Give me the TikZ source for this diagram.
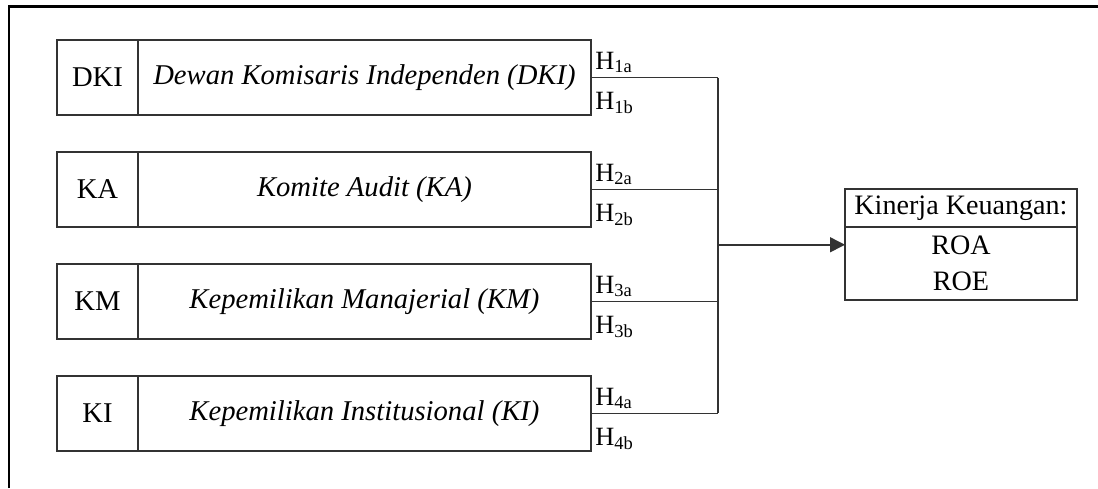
\documentclass[tikz,border=0pt]{standalone}
\usepackage{fontspec}
\setmainfont{Liberation Serif}
\usetikzlibrary{positioning,arrows.meta}
\tikzset{
  kode/.style={draw=black!80, line width=0.03cm, outer sep=0pt, inner sep=0pt,
    minimum width=1.62cm, minimum height=1.5cm, font=\fontsize{16.3}{19}\selectfont},
  uraian/.style={kode, minimum width=9.06cm, font=\fontsize{16.3}{19}\selectfont\itshape},
  hipo/.style={inner xsep=0.08cm, inner ysep=0.08cm, font=\fontsize{15}{17}\selectfont},
  hasil/.style={kode, minimum width=4.64cm, minimum height=0.76cm, align=center,
    font=\fontsize{16}{19}\selectfont},
  garis/.style={draw=black!80, line width=0.03cm}
}
\begin{document}
\begin{tikzpicture}[x=0.02cm,y=-0.02cm]
\useasboundingbox (0,0) rectangle (1098,488);
\draw[line width=0.06cm] (9,488)--(9,6)--(1098,6);
% variabel independen
\node[kode, anchor=north west] (dki) at (57,40) {DKI};
\node[uraian, right=0pt of dki] (dkiu) {Dewan Komisaris Independen (DKI)};
\node[kode, below=0.74cm of dki] (ka) {KA};
\node[uraian, right=0pt of ka] (kau) {Komite Audit (KA)};
\node[kode, below=0.74cm of ka] (km) {KM};
\node[uraian, right=0pt of km] (kmu) {Kepemilikan Manajerial (KM)};
\node[kode, below=0.74cm of km] (ki) {KI};
\node[uraian, right=0pt of ki] (kiu) {Kepemilikan Institusional (KI)};
% variabel dependen
\node[hasil, anchor=north west] (kinerja) at (845,189) {Kinerja Keuangan:};
\node[hasil, minimum height=1.46cm, below=0pt of kinerja, font=\fontsize{16}{20.5}\selectfont] (rasio) {ROA\\ROE};
% garis
\coordinate (bus) at (718,244.75);
\foreach \v/\n in {dkiu/1,kau/2,kmu/3,kiu/4}{
  \draw[garis] (\v.east) -- (\v.east -| bus);
  \node[hipo, anchor=south west] at (\v.east) {H\textsubscript{\n a}};
  \node[hipo, anchor=north west, yshift=-0.2cm] at (\v.east) {H\textsubscript{\n b}};
}
\draw[garis] (dkiu.east -| bus) -- (kiu.east -| bus);
\draw[garis, -{Triangle[length=0.3cm, width=0.3cm]}] (bus) -- (bus -| rasio.west);
\end{tikzpicture}
\end{document}
